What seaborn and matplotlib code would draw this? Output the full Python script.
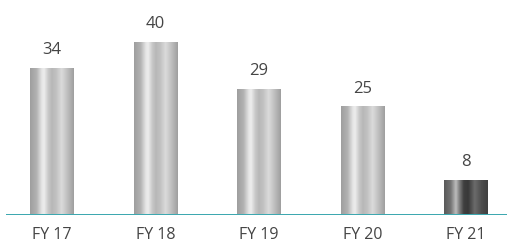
import numpy as np
import matplotlib
matplotlib.use("Agg")
import matplotlib.pyplot as plt
import seaborn as sns
from matplotlib.colors import LinearSegmentedColormap

years = ["FY 17", "FY 18", "FY 19", "FY 20", "FY 21"]
values = [34, 40, 29, 25, 8]
highlight = ["FY 21"]

sns.set_style("white")
plt.rcParams["font.family"] = ["Open Sans", "DejaVu Sans"]

# cylinder-like shading, across the bar width
silver = LinearSegmentedColormap.from_list("silver", [
    (0.00, (0.62,) * 3), (0.15, (0.70,) * 3), (0.27, (0.90,) * 3),
    (0.32, (0.93,) * 3), (0.42, (0.78,) * 3), (0.50, (0.72,) * 3),
    (0.60, (0.76,) * 3), (0.72, (0.86,) * 3), (0.86, (0.74,) * 3),
    (1.00, (0.62,) * 3)])
dark = LinearSegmentedColormap.from_list("dark", [
    (0.00, (0.35,) * 3), (0.15, (0.45,) * 3), (0.27, (0.74,) * 3),
    (0.35, (0.50,) * 3), (0.45, (0.25,) * 3), (0.55, (0.22,) * 3),
    (0.70, (0.42,) * 3), (0.86, (0.30,) * 3), (1.00, (0.25,) * 3)])
grad = np.linspace(0, 1, 256).reshape(1, -1)

fig = plt.figure(figsize=(5.07, 2.42), dpi=100)
ax = fig.add_axes([6 / 507, 27.5 / 242, 501 / 507, 214.5 / 242])

sns.barplot(x=years, y=values, ax=ax, width=0.425, color="white")

for patch, label, v in zip(ax.patches, years, values):
    x0, y0 = patch.get_x(), patch.get_y()
    w, h = patch.get_width(), patch.get_height()
    patch.set_facecolor("none")
    patch.set_edgecolor("none")
    cmap = dark if label in highlight else silver
    im = ax.imshow(grad, cmap=cmap, aspect="auto", extent=(x0, x0 + w, y0, y0 + h),
                   interpolation="bilinear", zorder=2)
    im.set_clip_path(patch)
    ax.annotate(f"{v}", (x0 + w / 2, y0 + h), xytext=(0, 12.8), textcoords="offset points",
                ha="center", va="center", fontsize=12, color="#454545")

ax.set_xlim(-46 / 103.5, 4 + 41 / 103.5)
ax.set_ylim(0, 214.5 / 4.32)
ax.axhline(0, color="#2a9fa8", lw=1.3, zorder=3)
for s in ax.spines.values():
    s.set_visible(False)
ax.set_yticks([])
ax.set_xlabel("")
ax.set_ylabel("")
ax.tick_params(axis="x", length=0, pad=8.8, labelsize=11.5, labelcolor="#454545")

fig.savefig("out.png", dpi=100)
